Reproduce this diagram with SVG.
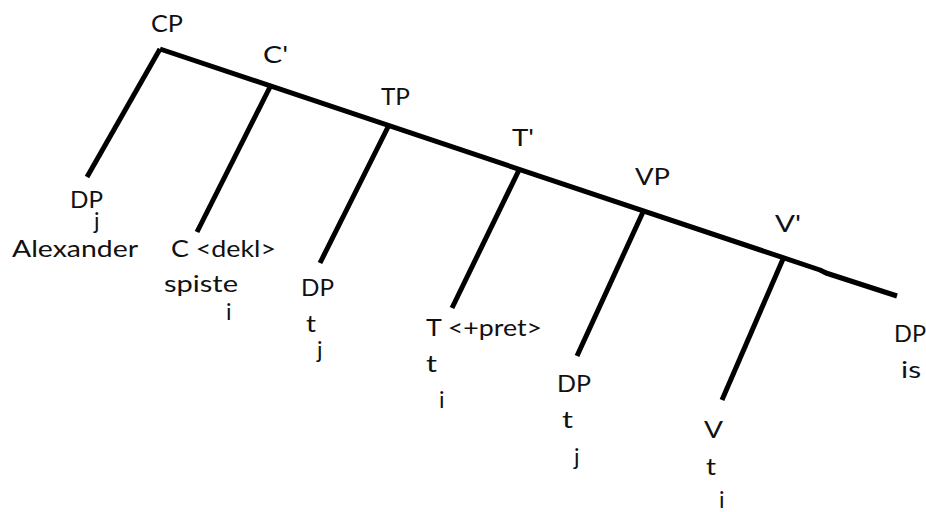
<svg xmlns="http://www.w3.org/2000/svg" width="926" height="512" viewBox="0 0 926 512">
<style>
text{font-family:Lato,"Open Sans","Liberation Sans",sans-serif;font-size:23px;fill:#111}
.e{stroke:#000;stroke-width:5;fill:none;stroke-linejoin:round}
</style>
<rect width="926" height="512" fill="#fff"/>
<g id="connectors">
<path class="e" d="M160,49 L820,270 L826,273 L897,296"/>
<path class="e" d="M160,49 L87,177"/>
<path class="e" d="M270,87 L197,232"/>
<path class="e" d="M388,127 L320,263"/>
<path class="e" d="M519,170 L452,308"/>
<path class="e" d="M643,212 L577,356"/>
<path class="e" d="M783,259 L722,400"/>
</g>
<g id="CP"><text x="151" y="32" textLength="32" lengthAdjust="spacingAndGlyphs">CP</text></g>
<g id="C1"><text x="263" y="63" textLength="25" lengthAdjust="spacingAndGlyphs">C'</text></g>
<g id="TP"><text x="381" y="105" textLength="29" lengthAdjust="spacingAndGlyphs">TP</text></g>
<g id="T1"><text x="512" y="146" textLength="22" lengthAdjust="spacingAndGlyphs">T'</text></g>
<g id="VP"><text x="635" y="185" textLength="35" lengthAdjust="spacingAndGlyphs">VP</text></g>
<g id="V1"><text x="775" y="232" textLength="26" lengthAdjust="spacingAndGlyphs">V'</text></g>
<g id="DP-Alexander">
<text x="70" y="208" textLength="33" lengthAdjust="spacingAndGlyphs">DP</text>
<text x="94" y="229">j</text>
<text x="12" y="257" textLength="126" lengthAdjust="spacingAndGlyphs">Alexander</text>
</g>
<g id="C-spiste">
<text x="171" y="257" textLength="105" lengthAdjust="spacingAndGlyphs">C &lt;dekl&gt;</text>
<text x="164" y="292" textLength="74" lengthAdjust="spacingAndGlyphs">spiste</text>
<text x="226" y="320">i</text>
</g>
<g id="DP-tj1">
<text x="301" y="296" textLength="33" lengthAdjust="spacingAndGlyphs">DP</text>
<text x="306" y="332" textLength="10" lengthAdjust="spacingAndGlyphs">t</text>
<text x="317" y="358">j</text>
</g>
<g id="T-ti">
<text x="426" y="336" textLength="116" lengthAdjust="spacingAndGlyphs">T &lt;+pret&gt;</text>
<text x="426" y="372" textLength="11" lengthAdjust="spacingAndGlyphs">t</text>
<text x="439" y="408">i</text>
</g>
<g id="DP-tj2">
<text x="557" y="392" textLength="34" lengthAdjust="spacingAndGlyphs">DP</text>
<text x="562" y="428" textLength="11" lengthAdjust="spacingAndGlyphs">t</text>
<text x="574" y="465">j</text>
</g>
<g id="V-ti">
<text x="704" y="438" textLength="19" lengthAdjust="spacingAndGlyphs">V</text>
<text x="706" y="475" textLength="10" lengthAdjust="spacingAndGlyphs">t</text>
<text x="719" y="508">i</text>
</g>
<g id="DP-is">
<text x="894" y="342" textLength="32" lengthAdjust="spacingAndGlyphs">DP</text>
<text x="901" y="378" textLength="20" lengthAdjust="spacingAndGlyphs">is</text>
</g>
</svg>
